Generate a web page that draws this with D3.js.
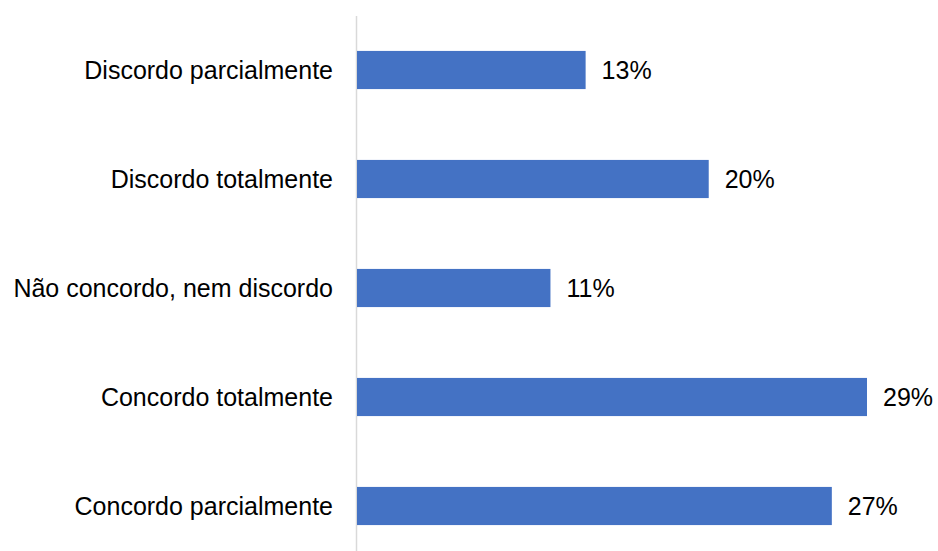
<!DOCTYPE html>
<html>
<head>
<meta charset="utf-8">
<script src="https://cdn.jsdelivr.net/npm/d3@7"></script>
<style>
  body { margin: 0; background: #fff; }
  text { font-family: "Liberation Sans", Arial, sans-serif; fill: #000; }
</style>
</head>
<body>
<div id="chart"></div>
<script>
// data
var categories = ["Discordo parcialmente", "Discordo totalmente", "Não concordo, nem discordo", "Concordo totalmente", "Concordo parcialmente"];
var values = [13, 20, 11, 29, 27];

const width = 938;
const height = 551;
const barColor = "#4472C4";

const x = d3.scaleLinear()
    .domain([0, 29])
    .range([357, 867]);

const y = d3.scaleBand()
    .domain(categories)
    .range([15.5, 560.5])
    .paddingInner(0.65)
    .paddingOuter(0.325);

const svg = d3.select("#chart").append("svg")
    .attr("width", width)
    .attr("height", height);

// axis line
svg.append("line")
    .attr("x1", 356.5).attr("x2", 356.5)
    .attr("y1", 16).attr("y2", height)
    .attr("stroke", "#d9d9d9")
    .attr("stroke-width", 1.5);

svg.append("g")
  .selectAll("rect")
  .data(values)
  .join("rect")
    .attr("x", x(0))
    .attr("y", (d, i) => y(categories[i]))
    .attr("width", d => x(d) - x(0))
    .attr("height", y.bandwidth())
    .attr("fill", barColor);

// category labels
svg.append("g")
  .selectAll("text")
  .data(categories)
  .join("text")
    .attr("x", 333)
    .attr("y", d => y(d) + y.bandwidth() / 2)
    .attr("dy", "0.35em")
    .attr("text-anchor", "end")
    .style("font-size", "25px")
    .text(d => d);

// value labels
svg.append("g")
  .selectAll("text")
  .data(values)
  .join("text")
    .attr("x", d => x(d) + 16)
    .attr("y", (d, i) => y(categories[i]) + y.bandwidth() / 2)
    .attr("dy", "0.35em")
    .style("font-size", "25px")
    .text(d => d + "%");
</script>
</body>
</html>
